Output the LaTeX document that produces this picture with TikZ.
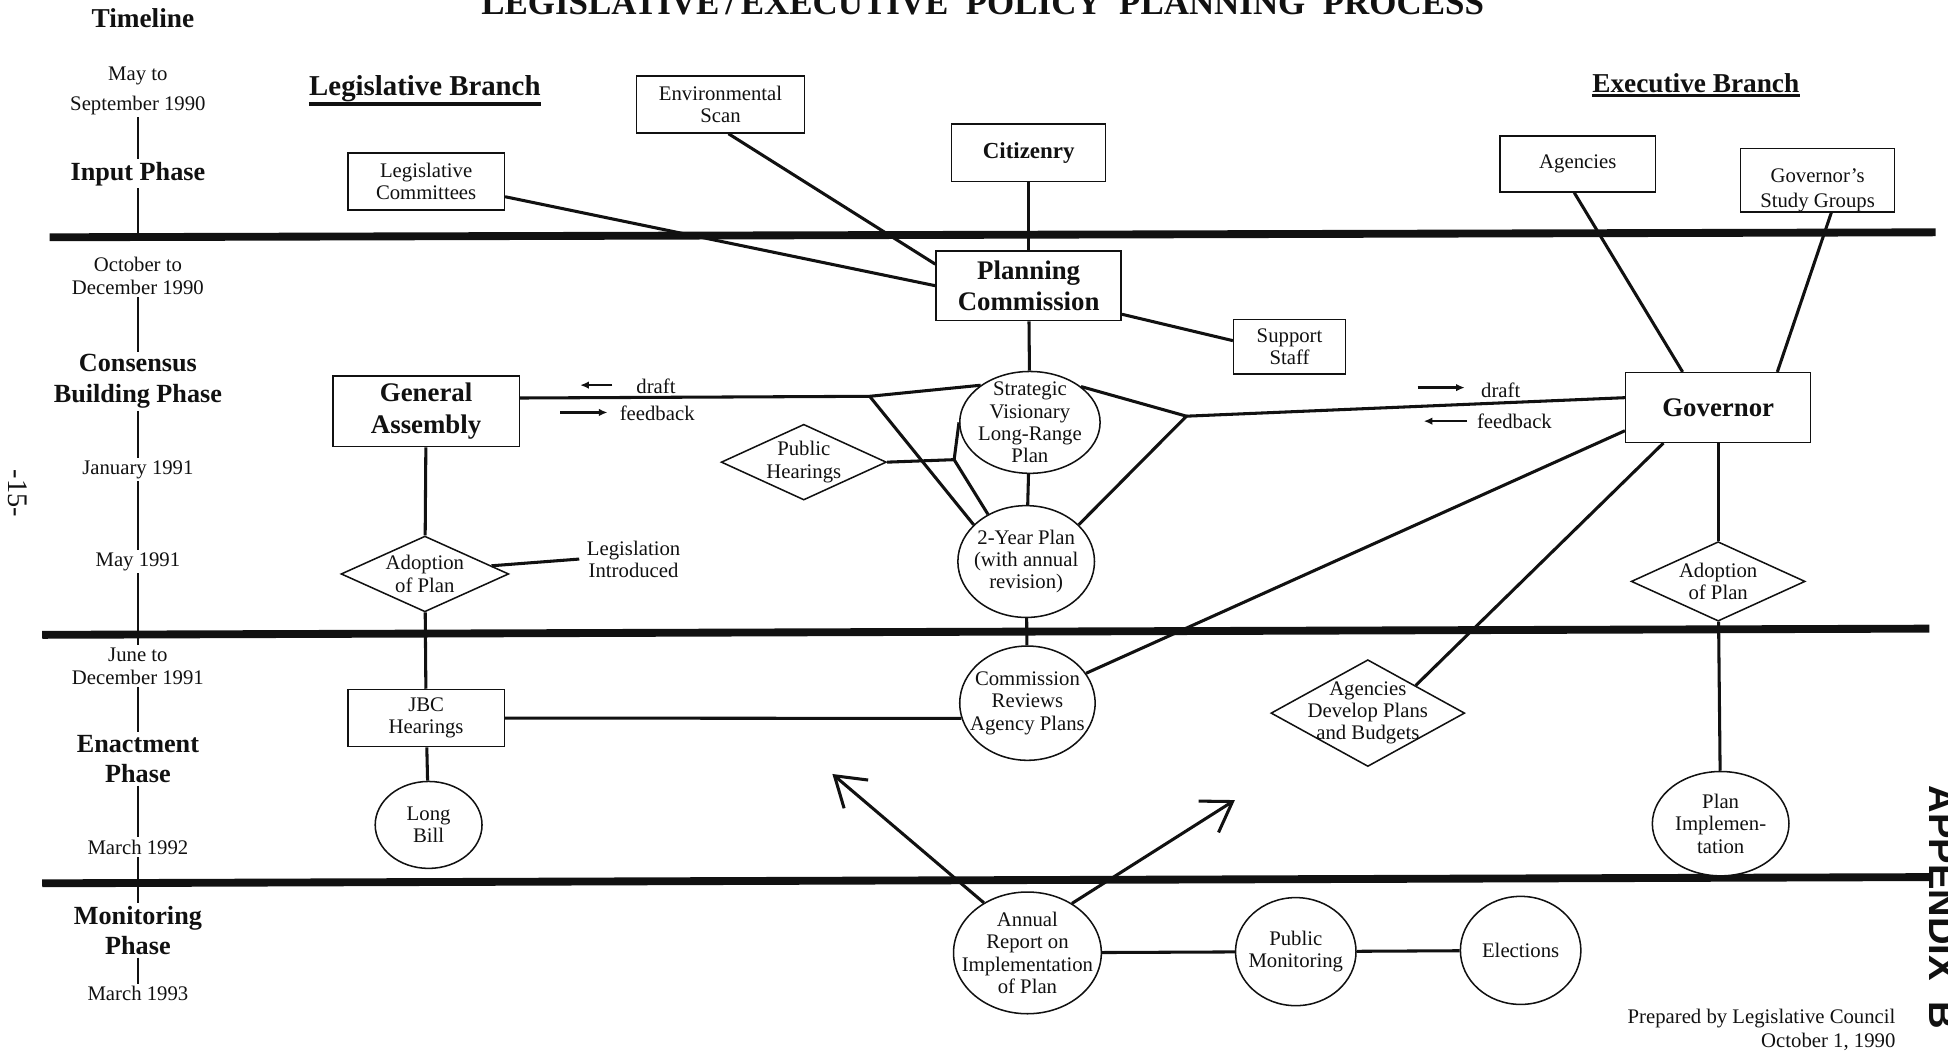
\documentclass[tikz,border=0pt]{standalone}
\usepackage{fontspec}
\setmainfont{Liberation Serif}
\newfontfamily\appfont{Liberation Sans}
\usetikzlibrary{shapes.geometric,arrows.meta}
\definecolor{ink}{HTML}{111111}
\tikzset{
  divider/.style={draw=ink, line width=3.6pt},
  link/.style={draw=ink, line width=1.4pt},
  tline/.style={draw=ink, line width=0.7pt},
  uline/.style={draw=ink, line width=1.6pt},
  bigarr/.style={link, -{Straight Barb[length=13pt,width=17pt]}},
  smallarr/.style={draw=ink, line width=1.1pt, -{Latex[length=4pt,width=3.5pt]}},
  box/.style={draw=ink, line width=0.7pt, fill=white, align=center, inner sep=1pt,
    text=ink, font=\fontsize{9.5}{10.2}\selectfont},
  bigbox/.style={box, font=\bfseries\fontsize{12.3}{14.5}\selectfont},
  oval/.style={ellipse, draw=ink, line width=0.7pt, fill=white, inner sep=0pt},
  dia/.style={diamond, draw=ink, line width=0.7pt, fill=white, inner sep=0pt},
  lbl/.style={align=center, text=ink, font=\fontsize{9.5}{10.2}\selectfont},
  datel/.style={align=center, text=ink, inner sep=1pt, font=\fontsize{9.5}{10.5}\selectfont},
  phasel/.style={align=center, text=ink, inner sep=1pt, font=\bfseries\fontsize{12}{14}\selectfont},
  heading/.style={text=ink, inner xsep=0pt, inner ysep=1pt, font=\bfseries\fontsize{12.5}{14}\selectfont},
}

\begin{document}
\begin{tikzpicture}[x=0.02cm, y=-0.02cm]
  \useasboundingbox (0,0) rectangle (1568,847);

  % phase dividers
  \coordinate (sw1) at (40,191);  \coordinate (se1) at (1558,187);
  \coordinate (sw2) at (34,511);  \coordinate (se2) at (1553,506);
  \coordinate (sw3) at (34,711);  \coordinate (se3) at (1553,706);
  \foreach \i in {1,2,3}
    \draw[divider] (sw\i) -- (se\i);

  % headings
  \node[text=ink, anchor=base, font=\bfseries\fontsize{16}{18}\selectfont] (ttl) at (791,12)
    {LEGISLATIVE\,/\,EXECUTIVE\ \ POLICY\ \ PLANNING\ \ PROCESS};
  \node[heading] (tl) at (115,15) {Timeline};
  \node[heading, font=\bfseries\fontsize{13.2}{15}\selectfont] (lb) at (342,71) {Legislative Branch};
  \node[heading] (eb) at (1365,67) {Executive Branch};
  \draw[uline] (lb.south west) -- (lb.south east);
  \draw[uline] (eb.south west) -- (eb.south east);

  % timeline
  \foreach \nm/\yy/\txt in {d1/73/{May to\\[3pt]September 1990},d2/222/{October to\\December 1990},
      d3/378/{January 1991},d4/452/{May 1991},d5/536/{June to\\December 1991},
      d6/682/{March 1992},d7/800/{March 1993}}
    \node[datel] (\nm) at (111,\yy) {\txt};
  \foreach \nm/\yy/\txt in {ph1/140/{Input Phase},ph2/307/{Consensus\\Building Phase},
      ph3/611/{Enactment\\Phase},ph4/749/{Monitoring\\Phase}}
    \node[phasel] (\nm) at (111,\yy) {\txt};
  \foreach \a/\b in {d1/ph1,d2/ph2,ph2/d3,d3/d4,d4/d5,d5/ph3,ph3/d6,d6/ph4,ph4/d7}
    \draw[tline] (\a) -- (\b);
  \draw[tline] (ph1) -- (ph1 |- sw1);

  % input phase
  \node[box, minimum width=2.7cm, minimum height=0.92cm] (env) at (580,84) {Environmental\\Scan};
  \node[box, minimum width=2.52cm, minimum height=0.92cm] (lcom) at (343,146) {Legislative\\Committees};
  \node[box, minimum width=2.48cm, minimum height=0.92cm,
    font=\bfseries\fontsize{10.5}{12}\selectfont] (citz) at (828,123) {Citizenry};
  \node[box, minimum width=2.5cm, minimum height=0.9cm] (agen) at (1270,132) {Agencies};
  \node[box, minimum width=2.48cm, minimum height=1.02cm,
    label={[lbl, yshift=-4.6pt]center:{Governor's\\[1.5pt]Study Groups}}] (gsg) at (1463,145) {};

  % consensus building phase
  \node[bigbox, minimum width=2.98cm, minimum height=1.12cm] (pc) at (828,230) {Planning\\Commission};
  \node[box, minimum width=1.8cm, minimum height=0.88cm] (sup) at (1038,279) {Support\\Staff};
  \node[bigbox, minimum width=3cm, minimum height=1.14cm] (ga) at (343,331) {General\\Assembly};
  \node[bigbox, minimum width=2.98cm, minimum height=1.12cm] (gov) at (1383,328) {Governor};
  \node[oval, minimum width=2.26cm, minimum height=1.64cm,
    label={[lbl]center:{Strategic\\Visionary\\Long-Range\\Plan}}] (slvp) at (829,340) {};
  \node[oval, minimum width=2.2cm, minimum height=1.8cm,
    label={[lbl]center:{2-Year Plan\\(with annual\\revision)}}] (tyr) at (826,452) {};
  \node[dia, minimum width=2.66cm, minimum height=1.22cm,
    label={[lbl]center:{Public\\Hearings}}] (phear) at (647,372) {};
  \node[dia, minimum width=2.7cm, minimum height=1.22cm,
    label={[lbl]center:{Adoption\\of Plan}}] (adl) at (342,462) {};
  \node[dia, minimum width=2.8cm, minimum height=1.28cm,
    label={[lbl]center:{Adoption\\of Plan}}] (adx) at (1383,468) {};
  \node[lbl] (legint) at (510,450) {Legislation\\Introduced};

  \node[lbl, inner sep=1pt] (dl) at (528,311) {draft};
  \node[lbl, inner sep=1pt] (fl) at (529,333) {feedback};
  \node[lbl, inner sep=1pt] (dr) at (1208,314) {draft};
  \node[lbl, inner sep=1pt] (fr) at (1219,339) {feedback};
  \coordinate (dla) at (493,310);  \coordinate (dlb) at (467,310);
  \coordinate (fla) at (451,332);  \coordinate (flb) at (489,332);
  \coordinate (dra) at (1141,312); \coordinate (drb) at (1179,312);
  \coordinate (fra) at (1181,339); \coordinate (frb) at (1146,339);
  \foreach \p in {dl,fl,dr,fr}
    \draw[smallarr] (\p a) -- (\p b);

  % enactment phase
  \node[box, minimum width=2.52cm, minimum height=0.92cm] (jbc) at (343,578) {JBC\\Hearings};
  \node[oval, minimum width=1.72cm, minimum height=1.4cm,
    label={[lbl]center:{Long\\Bill}}] (lbill) at (345,664) {};
  \node[oval, minimum width=2.18cm, minimum height=1.84cm,
    label={[lbl]center:{Commission\\Reviews\\Agency Plans}}] (cra) at (827,566) {};
  \node[dia, minimum width=3.12cm, minimum height=1.72cm,
    label={[lbl]center:{Agencies\\Develop Plans\\and Budgets}}] (adev) at (1101,574) {};
  \node[oval, minimum width=2.2cm, minimum height=1.68cm,
    label={[lbl]center:{Plan\\Implemen-\\tation}}] (pimp) at (1385,663) {};

  % monitoring phase
  \node[oval, minimum width=2.38cm, minimum height=1.96cm,
    label={[lbl]center:{Annual\\Report on\\Implementation\\of Plan}}] (arep) at (827,767) {};
  \node[oval, minimum width=1.94cm, minimum height=1.74cm,
    label={[lbl]center:{Public\\Monitoring}}] (pmon) at (1043,766) {};
  \node[oval, minimum width=1.94cm, minimum height=1.74cm,
    label={[lbl]center:{Elections}}] (elec) at (1224,765) {};
  \coordinate (a1) at (670,623);
  \coordinate (a2) at (994,644);

  % connectors
  \coordinate (jl) at (700,319);
  \coordinate (jh) at (768,370);
  \coordinate (jr) at (955,335);
  \draw[link] (lcom.-11) -- (pc.west);
  \draw[link] (env.-75) -- (pc.167);
  \draw[link] (citz) -- (pc);
  \draw[link] (pc.-17) -- (sup.174);
  \draw[link] (pc) -- (slvp);
  \draw[link] (slvp) -- (tyr);
  \draw[link] (ga.8) -- (jl) -- (slvp.143);
  \draw[link] (jl) -- (tyr.145);
  \draw[link] (phear.east) -- (jh) -- (slvp.west);
  \draw[link] (jh) -- (tyr.129);
  \draw[link] (slvp.35) -- (jr) -- (tyr.35);
  \draw[link] (jr) -- (gov.174);
  \draw[link] (agen.-97) -- (gov.135);
  \draw[link] (gsg.-67) -- (gov.31);
  \draw[link] (ga) -- (adl);
  \draw[link] (adl.7) -- (legint.west);
  \draw[link] (adl) -- (jbc);
  \draw[link] (jbc.east) -- (cra.193);
  \draw[link] (jbc) -- (lbill);
  \draw[link] (tyr) -- (cra);
  \draw[link] (gov.194) -- (cra.27);
  \draw[link] (gov.213) -- (adev.30);
  \draw[link] (gov) -- (adx);
  \draw[link] (adx) -- (pimp);
  \draw[bigarr] (arep.131) -- (a1);
  \draw[bigarr] (arep.48) -- (a2);
  \draw[link] (arep) -- (pmon);
  \draw[link] (pmon) -- (elec);

  % page marks
  \node[text=ink, rotate=-90, font=\fontsize{13}{15}\selectfont] (pg) at (14,397) {-15-};
  \node[text=ink, rotate=-90, anchor=base west, inner sep=0pt,
    font=\appfont\bfseries\fontsize{17.5}{20}\selectfont] (appx) at (1553,632) {APPENDIX\hspace{0.55em}B};
  \node[text=ink, anchor=north east, align=right, inner sep=0pt,
    font=\fontsize{9.5}{10.8}\selectfont] (prep) at (1526,812) {Prepared by Legislative Council\\October 1, 1990};
\end{tikzpicture}
\end{document}
